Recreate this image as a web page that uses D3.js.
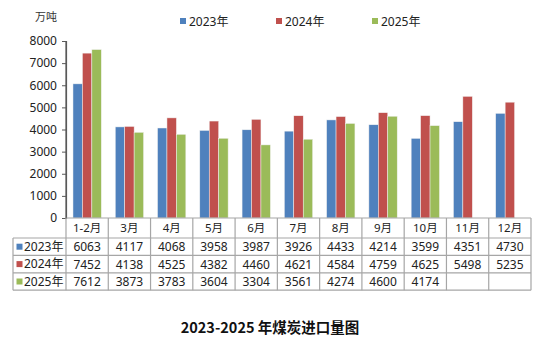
<!DOCTYPE html>
<html><head><meta charset="utf-8">
<script src="https://cdn.jsdelivr.net/npm/d3@7"></script>
<style>body{margin:0;background:#fff}svg{display:block}</style>
</head><body>
<svg id="c" width="550" height="343"></svg>
<script>
const categories = ["1-2月","3月","4月","5月","6月","7月","8月","9月","10月","11月","12月"];
const seriesNames = ["2023年","2024年","2025年"];
const v2023 = [6063,4117,4068,3958,3987,3926,4433,4214,3599,4351,4730];
const v2024 = [7452,4138,4525,4382,4460,4621,4584,4759,4625,5498,5235];
const v2025 = [7612,3873,3783,3604,3304,3561,4274,4600,4174,null,null];
const yTicks = [0,1000,2000,3000,4000,5000,6000,7000,8000];
const colors = ["#4F81BD","#C0504D","#9BBB59"];
const unitLabel = "万吨";
const title = "2023-2025 年煤炭进口量图";

(function(){
const series = [v2023, v2024, v2025];
const svg = d3.select("#c");
const font = "'Noto Sans','Noto Sans CJK SC',sans-serif";
const pLeft = 66, pRight = 531, pTop = 41, pBottom = 218;
const tableLeft = 13, rowH = 17.4, headH = 20;

const x = d3.scaleBand().domain(categories).range([pLeft, pRight]).paddingInner(0.33).paddingOuter(0.165);
const xCat = d3.scaleBand().domain(categories).range([pLeft, pRight]);
const xs = d3.scaleBand().domain(seriesNames).range([0, x.bandwidth()]);
const y = d3.scaleLinear().domain([0, 8000]).range([pBottom, pTop]);

series.forEach((vals, si) => {
  svg.append("g").selectAll("rect")
    .data(categories.map((c, i) => ({c, v: vals[i]})).filter(d => d.v != null))
    .join("rect")
    .attr("x", d => x(d.c) + xs(seriesNames[si]))
    .attr("y", d => y(d.v))
    .attr("width", xs.bandwidth())
    .attr("height", d => y(0) - y(d.v))
    .attr("fill", colors[si])
    .attr("stroke", "#f2f2f2").attr("stroke-width", 0.5);
});

const yAxis = d3.axisLeft(y).tickValues(yTicks).tickSize(4).tickPadding(5).tickFormat(d3.format("d"));
const gy = svg.append("g").attr("transform", `translate(${pLeft},0)`).call(yAxis);
gy.select(".domain").attr("stroke", "#595959").attr("stroke-width", 1.2);
gy.selectAll(".tick line").attr("stroke", "#595959");
gy.selectAll(".tick text").attr("font-family", font).attr("font-size", 12).attr("fill", "#222");

svg.append("text").attr("x", 46).attr("y", 21).attr("text-anchor", "middle")
  .attr("font-family", font).attr("font-size", 11).attr("fill", "#333").text(unitLabel);

const legX = [180, 276, 372];
seriesNames.forEach((n, i) => {
  svg.append("rect").attr("x", legX[i]).attr("y", 18).attr("width", 6).attr("height", 6).attr("fill", colors[i]);
  svg.append("text").attr("x", legX[i] + 9).attr("y", 26).attr("font-family", font)
    .attr("font-size", 12).attr("fill", "#222").text(n);
});

const gridColor = "#a6a6a6";
const tg = svg.append("g");
tg.selectAll("text.h").data(categories).join("text")
  .attr("x", d => xCat(d) + xCat.bandwidth() / 2).attr("y", pBottom + headH / 2 + 4)
  .attr("text-anchor", "middle").attr("font-family", font).attr("font-size", 11.5).attr("fill", "#222").text(d => d);
series.forEach((vals, si) => {
  const ry = pBottom + headH + si * rowH;
  tg.append("rect").attr("x", tableLeft + 3.5).attr("y", ry + rowH / 2 - 3).attr("width", 6).attr("height", 6).attr("fill", colors[si]);
  tg.append("text").attr("x", tableLeft + 11).attr("y", ry + rowH / 2 + 4).attr("font-family", font)
    .attr("font-size", 12).attr("fill", "#222").text(seriesNames[si]);
  tg.selectAll(null).data(categories.map((c, i) => ({c, v: vals[i]})).filter(d => d.v != null)).join("text")
    .attr("x", d => xCat(d.c) + xCat.bandwidth() / 2).attr("y", ry + rowH / 2 + 4.5)
    .attr("text-anchor", "middle").attr("font-family", font).attr("font-size", 12).attr("fill", "#222").text(d => d.v);
});
const tBottom = pBottom + headH + 3 * rowH;
tg.append("line").attr("x1", pLeft).attr("x2", pRight).attr("y1", pBottom).attr("y2", pBottom).attr("stroke", gridColor).attr("stroke-width", 1.2);
for (let r = 0; r <= 3; r++) {
  const yy = pBottom + headH + r * rowH;
  tg.append("line").attr("x1", tableLeft).attr("x2", pRight).attr("y1", yy).attr("y2", yy).attr("stroke", gridColor).attr("stroke-width", 1.2);
}
tg.append("line").attr("x1", tableLeft).attr("x2", tableLeft).attr("y1", pBottom + headH).attr("y2", tBottom).attr("stroke", gridColor).attr("stroke-width", 1.2);
categories.forEach((c) => {
  tg.append("line").attr("x1", xCat(c)).attr("x2", xCat(c)).attr("y1", pBottom).attr("y2", tBottom).attr("stroke", gridColor).attr("stroke-width", 1.2);
});
tg.append("line").attr("x1", pRight).attr("x2", pRight).attr("y1", pBottom).attr("y2", tBottom).attr("stroke", gridColor).attr("stroke-width", 1.2);
svg.append("line").attr("x1", pLeft).attr("x2", pLeft).attr("y1", pTop).attr("y2", pBottom).attr("stroke", "#595959").attr("stroke-width", 1.2);

svg.append("text").attr("x", 270).attr("y", 333).attr("text-anchor", "middle")
  .attr("font-family", "'Noto Sans CJK SC',sans-serif").attr("font-weight", "bold").attr("font-size", 14.5).attr("fill", "#111").text(title);
})();
</script>
</body></html>
